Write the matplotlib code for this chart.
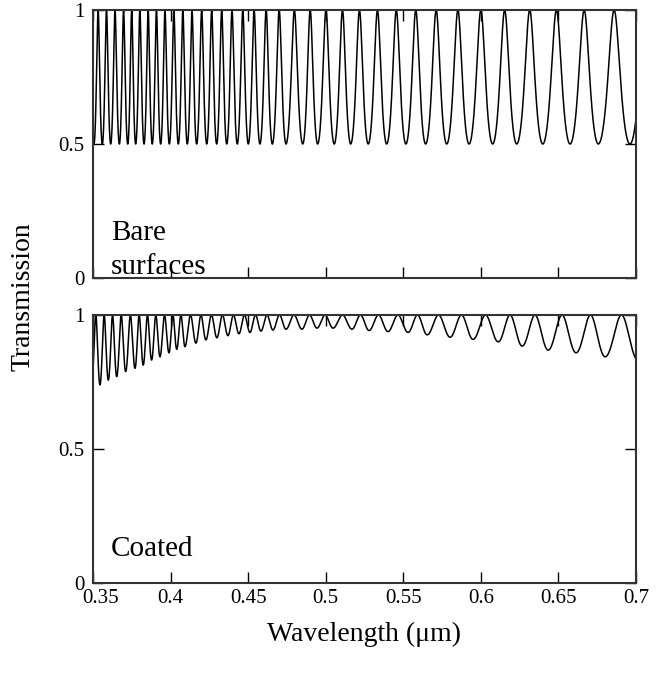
import numpy as np
import matplotlib
matplotlib.use('Agg')
import matplotlib.pyplot as plt
from matplotlib.transforms import ScaledTranslation

plt.rcParams['font.family'] = ['Liberation Serif', 'DejaVu Serif']

# trough positions (um) and trough transmission
bare_min_wl = [0.3560, 0.3614, 0.3670, 0.3724, 0.3775, 0.3829, 0.3882, 0.3936,
               0.3992, 0.4050, 0.4108, 0.4168, 0.4233, 0.4297, 0.4362, 0.4430,
               0.4501, 0.4576, 0.4656, 0.4744, 0.4852, 0.4948, 0.5055, 0.5161,
               0.5274, 0.5393, 0.5517, 0.5644, 0.5780, 0.5924, 0.6076, 0.6231,
               0.6399, 0.6575, 0.6757, 0.6961]
bare_min_t = [0.5] * len(bare_min_wl)

coated_min_wl = [0.3545, 0.3599, 0.3653, 0.3711, 0.3771, 0.3824, 0.3878, 0.3932,
                 0.3990, 0.4040, 0.4093, 0.4164, 0.4228, 0.4299, 0.4370, 0.4441,
                 0.4512, 0.4583, 0.4660, 0.4744, 0.4847, 0.4944, 0.5047, 0.5169,
                 0.5279, 0.5401, 0.5530, 0.5653, 0.5801, 0.5949, 0.6111, 0.6265,
                 0.6433, 0.6613, 0.6800, 0.7013]
coated_min_t = [0.739, 0.757, 0.770, 0.789, 0.801, 0.813, 0.832, 0.844,
                0.859, 0.872, 0.882, 0.895, 0.907, 0.915, 0.923, 0.930,
                0.935, 0.940, 0.944, 0.947, 0.947, 0.951, 0.951, 0.947,
                0.942, 0.938, 0.935, 0.926, 0.917, 0.909, 0.900, 0.884,
                0.869, 0.859, 0.844, 0.830]

xticks = [0.35, 0.4, 0.45, 0.5, 0.55, 0.6, 0.65, 0.7]
xticklabels = ['0.35', '0.4', '0.45', '0.5', '0.55', '0.6', '0.65', '0.7']
yticks = [0, 0.5, 1]
yticklabels = ['0', '0.5', '1']


def fringe_curve(min_wl, min_t, wl):
    # fringe order runs through the troughs; peaks (T=1) sit halfway between
    mw = np.asarray(min_wl)
    order = np.arange(len(mw), dtype=float)
    mw_ext = np.concatenate([[2 * mw[0] - mw[1]], mw, [2 * mw[-1] - mw[-2]]])
    ord_ext = np.concatenate([[-1.0], order, [len(mw)]])
    phase = np.interp(wl, mw_ext, ord_ext)
    tmin = np.interp(wl, mw, min_t)
    F = 1.0 / tmin - 1.0
    return 1.0 / (1.0 + F * np.cos(np.pi * phase) ** 2)


wl = np.linspace(0.35, 0.7, 6000)

fig = plt.figure(figsize=(6.58, 6.79), dpi=100)
ax1 = fig.add_axes([93 / 658, 1 - 278 / 679, 543 / 658, 268 / 679])
ax2 = fig.add_axes([93 / 658, 1 - 583 / 679, 543 / 658, 268 / 679])

ax1.plot(wl, fringe_curve(bare_min_wl, bare_min_t, wl), color='black', lw=1.1)
ax2.plot(wl, fringe_curve(coated_min_wl, coated_min_t, wl), color='black', lw=1.1)

for ax in (ax1, ax2):
    ax.set_xlim(0.35, 0.7)
    ax.set_ylim(0, 1)
    ax.set_xticks(xticks)
    ax.set_yticks(yticks)
    ax.set_yticklabels(yticklabels, fontsize=15)
    ax.tick_params(direction='in', top=True, right=True, length=8, width=1,
                   pad=6)
    for s in ax.spines.values():
        s.set_linewidth(1.5)
        s.set_color('#333333')

ax1.set_xticklabels([])
ax2.set_xticklabels(xticklabels, fontsize=15)
ax2.tick_params(axis='x', pad=4)
# first x label sits a little right of its tick, clear of the y "0"
lab0 = ax2.get_xticklabels()[0]
lab0.set_transform(lab0.get_transform() +
                   ScaledTranslation(8 / 100, 0, fig.dpi_scale_trans))

ax1.text(0.033, 0.015, 'Bare\nsurfaces', transform=ax1.transAxes,
         fontsize=21, ha='left', va='baseline', linespacing=1.4)
ax2.text(0.033, 0.1, 'Coated', transform=ax2.transAxes,
         fontsize=21, ha='left', va='baseline')

fig.text(364 / 658, 1 - 634 / 679, 'Wavelength (\u03bcm)', fontsize=20,
         ha='center', va='center')
fig.text(23 / 658, 1 - 297 / 679, 'Transmission', rotation=90, fontsize=20,
         ha='center', va='center')

fig.savefig('out.png', dpi=100)
